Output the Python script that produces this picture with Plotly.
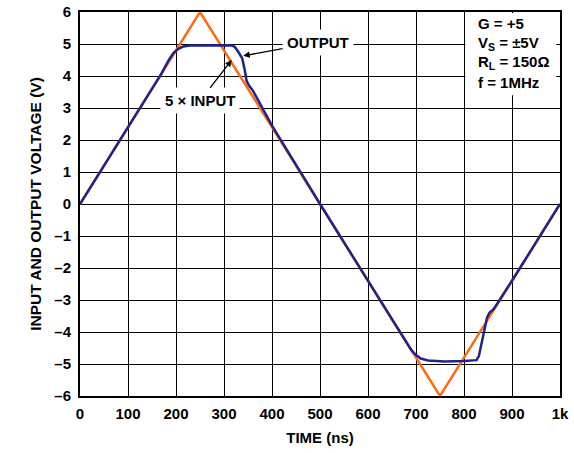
import plotly.graph_objects as go

# 5 x input triangle wave (ns, V)
t_input = [0, 250, 750, 1000]
v_input = [0, 6, -6, 0]

# Amplifier output, clipping near the rails
t_output = [0, 170, 185, 195, 205, 215, 230, 260, 300, 318, 323, 330, 338, 343, 347,
            352, 360, 400, 500, 690, 700, 710, 725, 760, 800, 826, 831, 836, 842,
            848, 853, 862, 900, 1000]
v_output = [0, 4.08, 4.5, 4.72, 4.85, 4.92, 4.95, 4.96, 4.96, 4.95, 4.9, 4.75, 4.55,
            4.2, 3.85, 3.7, 3.55, 2.45, 0, -4.56, -4.72, -4.83, -4.89, -4.92, -4.91,
            -4.88, -4.75, -4.4, -3.95, -3.55, -3.4, -3.28, -2.4, 0]

x_ticks = [0, 100, 200, 300, 400, 500, 600, 700, 800, 900, 1000]
x_labels = ["0", "100", "200", "300", "400", "500", "600", "700", "800", "900", "1k"]
y_ticks = list(range(-6, 7))
y_labels = [str(v) if v >= 0 else "\u2013" + str(-v) for v in y_ticks]

# Test conditions, one line each
conditions = ["G = +5", "V<sub>S</sub> = \u00b15V", "R<sub>L</sub> = 150\u03a9", "f = 1MHz"]

font = "Liberation Sans, Arial, sans-serif"
fs = 15

fig = go.Figure()
fig.add_trace(go.Scatter(x=t_input, y=v_input, mode="lines",
                         line=dict(color="#FF6A13", width=2.5), hoverinfo="skip"))
fig.add_trace(go.Scatter(x=t_output, y=v_output, mode="lines",
                         line=dict(color="#22228C", width=2.5), hoverinfo="skip"))

# White box behind the test conditions
fig.add_shape(type="rect", xref="x", yref="y", x0=803, x1=992, y0=3.4, y1=5.97,
              fillcolor="white", line=dict(width=0), layer="above")
for i, line in enumerate(conditions):
    fig.add_annotation(x=826, y=5.63 - i * 0.61, xref="x", yref="y", xanchor="left",
                       yanchor="middle", showarrow=False, align="left",
                       text="<b>%s</b>" % line,
                       font=dict(family=font, size=fs, color="black"))

fig.add_annotation(x=340, y=4.63, ax=496, ay=5.06, xref="x", yref="y", axref="x", ayref="y",
                   text="<b>OUTPUT</b>", showarrow=True, arrowhead=2, arrowsize=1,
                   arrowwidth=1.3, arrowcolor="black", bgcolor="white", borderpad=4,
                   font=dict(family=font, size=fs, color="black"))
fig.add_annotation(x=316, y=4.5, ax=250, ay=3.22, xref="x", yref="y", axref="x", ayref="y",
                   text="<b>5 \u00d7 INPUT</b>", showarrow=True, arrowhead=2, arrowsize=1,
                   arrowwidth=1.3, arrowcolor="black", bgcolor="white", borderpad=4,
                   font=dict(family=font, size=fs, color="black"))

axis_common = dict(showgrid=True, gridcolor="black", gridwidth=1.3, showline=True,
                   linecolor="black", linewidth=2, mirror=True, zeroline=False,
                   ticks="", automargin=False,
                   tickfont=dict(family=font, size=fs, color="black"))

fig.update_layout(
    width=574, height=453, margin=dict(l=80, r=14, t=12, b=57),
    paper_bgcolor="white", plot_bgcolor="white", showlegend=False,
    xaxis=dict(range=[0, 1000], tickvals=x_ticks, ticktext=["<b>%s</b>" % s for s in x_labels],
               ticklabelstandoff=3,
               title=dict(text="<b>TIME (ns)</b>", font=dict(family=font, size=fs, color="black"),
                          standoff=11), **axis_common),
    yaxis=dict(range=[-6, 6], tickvals=y_ticks, ticktext=["<b>%s</b>" % s for s in y_labels],
               ticklabelstandoff=4,
               title=dict(text="<b>INPUT AND OUTPUT VOLTAGE (V)</b>",
                          font=dict(family=font, size=15.5, color="black"), standoff=9),
               **axis_common),
)

fig.write_html("out.html")
